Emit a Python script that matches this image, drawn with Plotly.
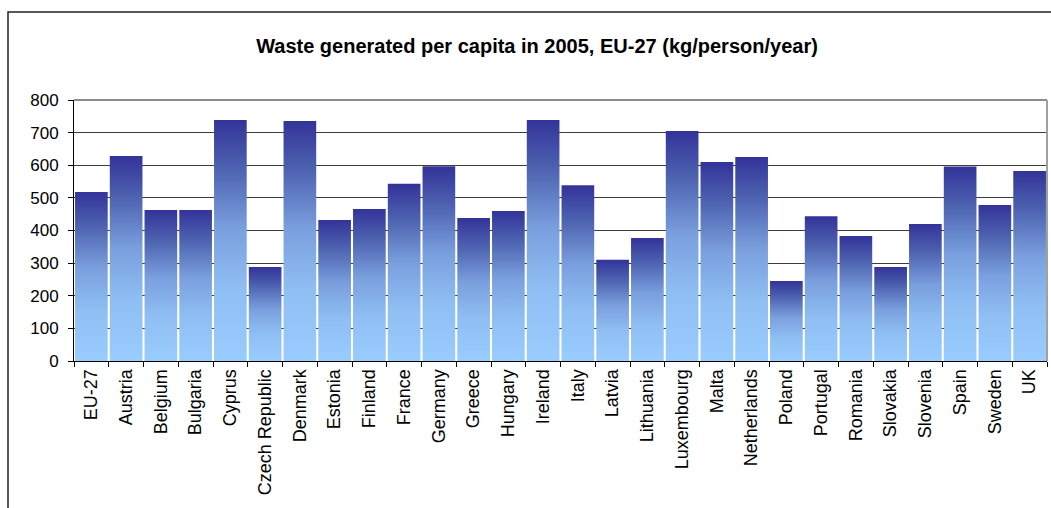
import plotly.graph_objects as go

# Municipal waste generated per inhabitant, 2005 (kg/person/year)
countries = [
    "EU-27", "Austria", "Belgium", "Bulgaria", "Cyprus", "Czech Republic",
    "Denmark", "Estonia", "Finland", "France", "Germany", "Greece", "Hungary",
    "Ireland", "Italy", "Latvia", "Lithuania", "Luxembourg", "Malta",
    "Netherlands", "Poland", "Portugal", "Romania", "Slovakia", "Slovenia",
    "Spain", "Sweden", "UK",
]
waste_kg = [
    518, 628, 463, 463, 739, 288,
    736, 432, 466, 543, 597, 438, 460,
    739, 539, 310, 377, 705, 610,
    625, 245, 444, 383, 288, 420,
    596, 478, 582,
]
y_ticks = [0, 100, 200, 300, 400, 500, 600, 700, 800]

W, H = 1051, 508
ML, MR, MT, MB = 74, 4, 100, 147
PW, PH = W - ML - MR, H - MT - MB

BAR_W = 0.94
FONT = "Liberation Sans, Arial, sans-serif"
gradient = [
    [0.0, "#99CCFF"],
    [0.30, "#8FBEF3"],
    [0.55, "#7A9FDE"],
    [0.80, "#4D62B0"],
    [1.0, "#333399"],
]

fig = go.Figure()

# one filled rectangle per country so each bar carries its own vertical gradient
for i, (name, v) in enumerate(zip(countries, waste_kg)):
    x0, x1 = i - BAR_W / 2, i + BAR_W / 2
    fig.add_trace(go.Scatter(
        x=[x0, x1, x1, x0, x0],
        y=[0, 0, v, v, 0],
        mode="lines",
        fill="toself",
        line=dict(width=0, color="rgba(0,0,0,0)"),
        fillgradient=dict(type="vertical", colorscale=gradient, start=0, stop=v),
        name=name,
        hoverinfo="text",
        text=f"{name}: {v}",
        showlegend=False,
    ))

def px_x(p):
    return (p - ML) / PW

def px_y(p):
    return (H - MB - p) / PH

shapes = [
    # outer chart frame (left and top edges visible)
    dict(type="rect", xref="paper", yref="paper",
         x0=px_x(8), x1=px_x(W + 20), y0=px_y(H + 20), y1=px_y(12),
         line=dict(color="#222222", width=1.5), layer="below"),
    # plot area border: top and right edges
    dict(type="line", xref="paper", yref="paper",
         x0=0, x1=1, y0=1, y1=1, line=dict(color="#8C8C8C", width=2)),
    dict(type="line", xref="paper", yref="paper",
         x0=1, x1=1, y0=0, y1=1, line=dict(color="#A0A0A0", width=2)),
]

fig.update_layout(
    width=W, height=H,
    margin=dict(l=ML, r=MR, t=MT, b=MB, pad=0),
    paper_bgcolor="white",
    plot_bgcolor="white",
    font=dict(family=FONT, color="black"),
    title=dict(
        text="<b>Waste generated per capita in 2005, EU-27 (kg/person/year)</b>",
        font=dict(family=FONT, size=20, color="black"),
        x=537 / W, xref="container", xanchor="center",
        y=1 - 46 / H, yref="container", yanchor="middle",
    ),
    shapes=shapes,
    xaxis=dict(
        range=[-0.5, len(countries) - 0.5],
        tickmode="array",
        tickvals=list(range(len(countries))),
        ticktext=countries,
        tickangle=-90,
        ticks="",
        tickfont=dict(family=FONT, size=18, color="black"),
        showgrid=False,
        zeroline=False,
        showline=True, linecolor="black", linewidth=1,
        minor=dict(
            tickmode="array",
            tickvals=[k - 0.5 for k in range(len(countries) + 1)],
            ticks="outside", ticklen=5, tickcolor="black", tickwidth=1,
            showgrid=False,
        ),
        fixedrange=True,
    ),
    yaxis=dict(
        range=[0, 800],
        tickmode="array",
        tickvals=y_ticks,
        ticks="outside", ticklen=5, tickcolor="black", tickwidth=1,
        tickfont=dict(family=FONT, size=17, color="black"),
        ticklabelstandoff=6,
        showgrid=True, gridcolor="#3C3C3C", gridwidth=1,
        zeroline=False,
        showline=True, linecolor="black", linewidth=1,
        fixedrange=True,
    ),
)

fig.write_html("out.html")
